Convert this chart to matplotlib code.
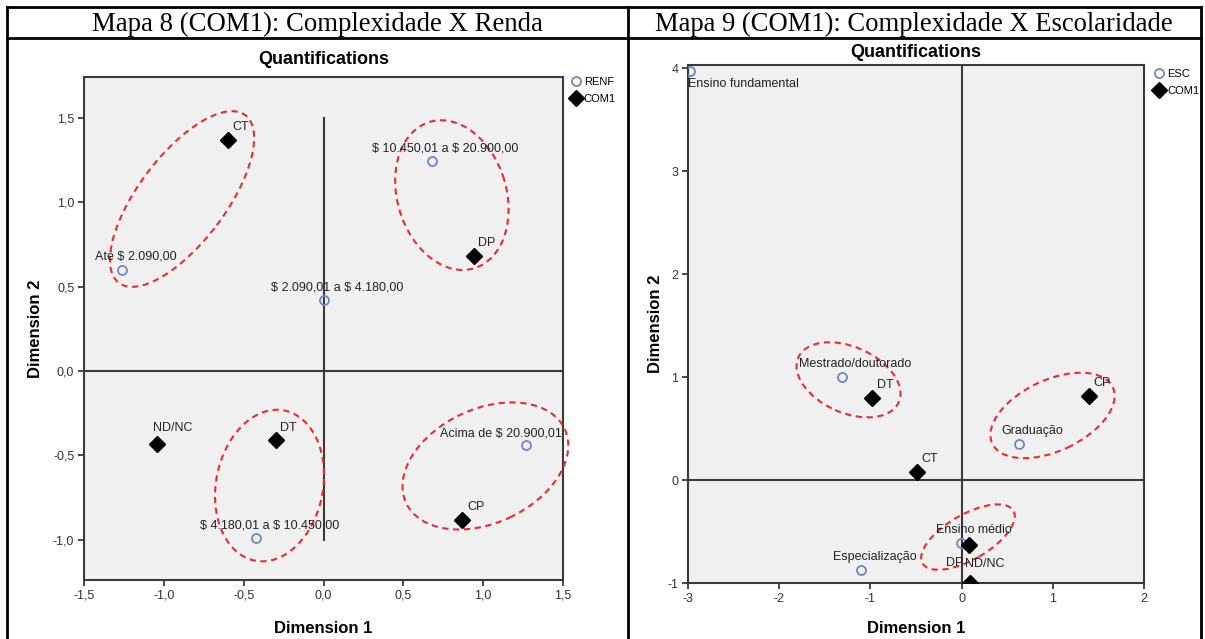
import matplotlib
matplotlib.use("Agg")
import matplotlib.pyplot as plt
from matplotlib.lines import Line2D
from matplotlib.patches import Ellipse
from matplotlib.transforms import ScaledTranslation
from matplotlib.ticker import FuncFormatter

plt.rcParams["font.family"] = ["Liberation Sans", "DejaVu Sans"]
plt.rcParams["text.parse_math"] = False
plt.rcParams["axes.unicode_minus"] = False

# ---------------- Mapa 8: Complexidade x Renda ----------------
renf_labels = ["Até $ 2.090,00", "$ 2.090,01 a $ 4.180,00", "$ 4.180,01 a $ 10.450,00",
               "$ 10.450,01 a $ 20.900,00", "Acima de $ 20.900,01"]
renf_x = [-1.26, 0.0, -0.42, 0.68, 1.27]
renf_y = [0.60, 0.42, -0.99, 1.24, -0.44]

com_a_labels = ["CT", "DP", "DT", "CP", "ND/NC"]
com_a_x = [-0.60, 0.94, -0.30, 0.87, -1.04]
com_a_y = [1.37, 0.68, -0.41, -0.88, -0.43]

# ---------------- Mapa 9: Complexidade x Escolaridade ----------------
esc_labels = ["Ensino fundamental", "Mestrado/doutorado", "Graduação", "Especialização", "Ensino médio"]
esc_x = [-2.98, -1.31, 0.63, -1.10, -0.01]
esc_y = [3.97, 1.00, 0.35, -0.87, -0.61]

com_b_labels = ["DT", "CP", "CT", "DP", "ND/NC"]
com_b_x = [-0.98, 1.40, -0.49, 0.08, 0.09]
com_b_y = [0.80, 0.82, 0.08, -0.63, -1.00]

# highlighted groups: centre (data), width / height (px), angle
rings_a = [(-0.886, 1.018, 210, 87, 53), (0.804, 1.041, 153, 109, 107),
           (-0.338, -0.678, 153, 107, 79), (1.014, -0.562, 175, 114, 25)]
rings_b = [(-1.24, 0.973, 110, 66, -24), (0.997, 0.627, 133, 71, 25),
           (0.07, -0.554, 105, 45, 30)]

DPI = 100
fig = plt.figure(figsize=(12.05, 6.39), dpi=DPI)
W, H = 1205, 639

BLUE = "#6f86c6"
DARK = "#3a3a3a"


def px_axes(l, t, r, b):
    return fig.add_axes([l / W, 1 - b / H, (r - l) / W, (b - t) / H])


def comma(v, pos):
    return f"{v:.1f}".replace(".", ",")


def setup(ax, xlim, ylim, xticks, yticks, fmt, xpad, ypad, tpad):
    ax.set_facecolor("#f0f0f0")
    ax.set_xlim(*xlim)
    ax.set_ylim(*ylim)
    ax.set_xticks(xticks)
    ax.set_yticks(yticks)
    if fmt:
        ax.xaxis.set_major_formatter(FuncFormatter(fmt))
        ax.yaxis.set_major_formatter(FuncFormatter(fmt))
    for s in ax.spines.values():
        s.set_color(DARK)
        s.set_linewidth(1.5)
    ax.tick_params(direction="out", length=4, width=1.3, color=DARK,
                   labelsize=9, labelcolor="#333333", pad=3)
    ax.set_xlabel("Dimension 1", fontsize=12, fontweight="bold", labelpad=xpad)
    ax.set_ylabel("Dimension 2", fontsize=12, fontweight="bold", labelpad=ypad)
    ax.set_title("Quantifications", fontsize=13, fontweight="bold", pad=tpad)


def ring(ax, cx, cy, w, h, ang):
    tr = fig.dpi_scale_trans + ScaledTranslation(cx, cy, ax.transData)
    e = Ellipse((0, 0), w / DPI, h / DPI, angle=ang, transform=tr, fill=False,
                ec="#f02a2a", lw=1.5, ls=(0, (3, 2.2)), clip_on=False, zorder=4)
    ax.add_patch(e)


def labels(ax, xs, ys, names, offsets):
    for x, y, n in zip(xs, ys, names):
        dx, dy, ha, va = offsets.get(n, (9.5, 7, "center", "baseline"))
        ax.annotate(n, (x, y), xytext=(dx, dy), textcoords="offset points",
                    ha=ha, va=va, fontsize=9, color="#222222", zorder=6)


leg_kw = dict(loc="upper left", frameon=False, fontsize=8, handlelength=0.8,
              handletextpad=0.3, borderpad=0, borderaxespad=0, labelspacing=0.65)

# ---------- left panel ----------
ax1 = px_axes(84, 77, 563, 580)
setup(ax1, (-1.5, 1.5), (-1.237, 1.74), [-1.5, -1.0, -0.5, 0.0, 0.5, 1.0, 1.5],
      [-1.0, -0.5, 0.0, 0.5, 1.0, 1.5], comma, 14, 7, 9)
ax1.plot([0, 0], [-1.0, 1.5], color=DARK, lw=1.5, zorder=1)
ax1.plot([-1.5, 1.5], [0, 0], color=DARK, lw=1.5, zorder=1)
h1, = ax1.plot(renf_x, renf_y, "o", ms=6.5, mfc="none", mec=BLUE, mew=1.3, ls="none", label="RENF", zorder=5)
h2, = ax1.plot(com_a_x, com_a_y, "D", ms=8, color="black", ls="none", label="COM1", zorder=5)
labels(ax1, renf_x, renf_y, renf_labels, {"Acima de $ 20.900,01": (-18, 6.5, "center", "baseline")})
labels(ax1, com_a_x, com_a_y, com_a_labels, {"ND/NC": (11, 9, "center", "baseline")})
for r in rings_a:
    ring(ax1, *r)
ax1.legend(handles=[h1, h2], bbox_to_anchor=(1.018, 1.0), **leg_kw)

# ---------- right panel ----------
ax2 = px_axes(688, 65, 1144, 583)
setup(ax2, (-3, 2), (-1, 4.03), [-3, -2, -1, 0, 1, 2], [-1, 0, 1, 2, 3, 4], None, 12, 3, 5.5)
ax2.plot([0, 0], [-1, 4.03], color=DARK, lw=1.5, zorder=1)
ax2.plot([-3, 2], [0, 0], color=DARK, lw=1.5, zorder=1)
g1, = ax2.plot(esc_x, esc_y, "o", ms=6.5, mfc="none", mec=BLUE, mew=1.3, ls="none", label="ESC", zorder=5)
g2, = ax2.plot(com_b_x, com_b_y, "D", ms=8, color="black", ls="none", label="COM1", zorder=5)
labels(ax2, esc_x, esc_y, esc_labels, {"Ensino fundamental": (-1, -5, "left", "top")})
labels(ax2, com_b_x, com_b_y, com_b_labels, {"DP": (-10, -15, "center", "baseline"),
                                             "ND/NC": (10.5, 11.5, "center", "baseline")})
for r in rings_b:
    ring(ax2, *r)
ax2.legend(handles=[g1, g2], bbox_to_anchor=(1.024, 0.993), **leg_kw)

# ---------- table frame and headers ----------
def fline(x0, y0, x1, y1):
    fig.add_artist(Line2D([x0 / W, x1 / W], [1 - y0 / H, 1 - y1 / H], color="black", lw=2,
                          transform=fig.transFigure))

fline(7, 7, 1201, 7)
fline(7, 38, 1201, 38)
fline(7, 7, 7, 639)
fline(628, 7, 628, 639)
fline(1201, 7, 1201, 639)

fig.text(317 / W, 1 - 24 / H, "Mapa 8 (COM1): Complexidade X Renda", ha="center", va="center",
         fontsize=19.3, family="Liberation Serif")
fig.text(914 / W, 1 - 24 / H, "Mapa 9 (COM1): Complexidade X Escolaridade", ha="center", va="center",
         fontsize=19.2, family="Liberation Serif")

fig.savefig("out.png", dpi=DPI)
